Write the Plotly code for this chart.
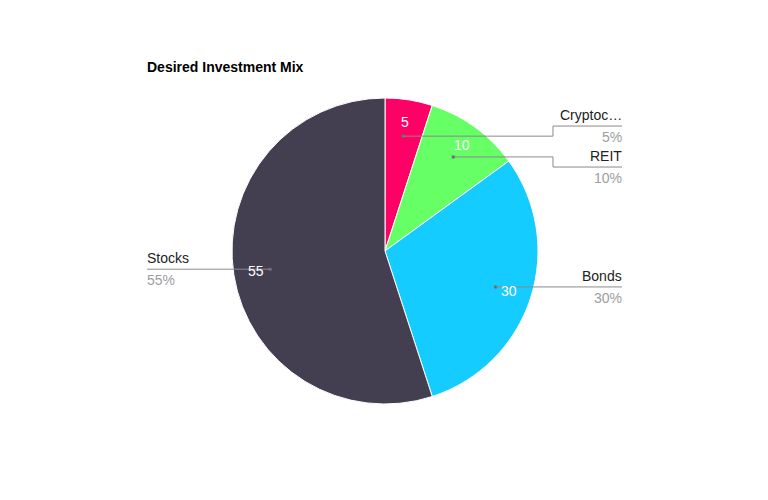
import math
import plotly.graph_objects as go

# ---- data ----
categories = ["Cryptocurrency", "REIT", "Bonds", "Stocks"]
values = [5, 10, 30, 55]
colors = ["#FF0066", "#66FF66", "#14CCFF", "#433F51"]
title_text = "Desired Investment Mix"

# ---- layout constants (pixels) ----
W, H = 768, 500
CX, CY, R = 385, 251, 153
FONT = "Arial, Liberation Sans, sans-serif"
LINE_COL = "#8a8a8a"
PCT_COL = "#9e9e9e"
RIGHT_ELBOW_X = 553
RIGHT_TEXT_X = 622
LEFT_TEXT_X = 147
MIN_SEP = 41
FS = 14


def px(x):
    return x / W


def py(y):
    return 1 - y / H


def short(name, n=7):
    return name if len(name) <= n else name[:n] + "\u2026"


fig = go.Figure(go.Pie(
    labels=categories,
    values=values,
    sort=False,
    direction="clockwise",
    rotation=0,
    marker=dict(colors=colors, line=dict(color="white", width=1)),
    textinfo="none",
    hoverinfo="label+value+percent",
    showlegend=False,
    domain=dict(x=[(CX - R) / W, (CX + R) / W], y=[1 - (CY + R) / H, 1 - (CY - R) / H]),
))

total = sum(values)
cum = 0
items = []
for name, v in zip(categories, values):
    mid = (cum + v / 2) / total * 2 * math.pi
    cum += v
    sx, sy = math.sin(mid), -math.cos(mid)
    items.append(dict(name=name, v=v, pct=round(v / total * 100),
                      tx=CX + 0.855 * R * sx, ty=CY + 0.855 * R * sy,
                      dx=CX + 0.76 * R * sx, dy=CY + 0.76 * R * sy,
                      right=sx >= 0))

# resolve label y positions per side
for side in (True, False):
    grp = sorted([it for it in items if it["right"] == side], key=lambda d: d["dy"])
    for it in grp:
        it["ly"] = it["dy"]
    changed = True
    while changed:
        changed = False
        for a, b in zip(grp, grp[1:]):
            if b["ly"] - a["ly"] < MIN_SEP - 0.01:
                m = (a["ly"] + b["ly"]) / 2
                a["ly"], b["ly"] = m - MIN_SEP / 2, m + MIN_SEP / 2
                changed = True

shapes = []
annotations = []
common = dict(xref="paper", yref="paper", showarrow=False, borderpad=0, borderwidth=0)
for it in items:
    # dot
    shapes.append(dict(type="circle", xref="paper", yref="paper",
                       x0=px(it["dx"] - 1.8), x1=px(it["dx"] + 1.8),
                       y0=py(it["dy"] - 1.8), y1=py(it["dy"] + 1.8),
                       fillcolor="#6b6b6b", line=dict(width=0)))
    ly = it["ly"]
    if it["right"]:
        pts = [(it["dx"], it["dy"]), (RIGHT_ELBOW_X, it["dy"]), (RIGHT_ELBOW_X, ly), (RIGHT_TEXT_X, ly)]
        tx, xa = RIGHT_TEXT_X, "right"
    else:
        pts = [(it["dx"], it["dy"]), (LEFT_TEXT_X, ly)]
        tx, xa = LEFT_TEXT_X, "left"
    path = "M " + " L ".join(f"{px(x):.5f},{py(y):.5f}" for x, y in pts)
    shapes.append(dict(type="path", xref="paper", yref="paper", path=path, layer="above",
                       line=dict(color=LINE_COL, width=1)))
    annotations.append(dict(x=px(tx), y=py(ly - 11), text=short(it["name"]),
                            xanchor=xa, yanchor="middle",
                            font=dict(family=FONT, size=FS, color="#222222"), **common))
    annotations.append(dict(x=px(tx), y=py(ly + 11), text=f"{it['pct']}%",
                            xanchor=xa, yanchor="middle",
                            font=dict(family=FONT, size=FS, color=PCT_COL), **common))
    # value text inside slice
    annotations.append(dict(x=px(it["tx"]), y=py(it["ty"]), text=str(it["v"]),
                            xanchor="center", yanchor="middle",
                            font=dict(family=FONT, size=FS, color="white"), **common))

annotations.append(dict(x=px(147), y=py(67), text=f"<b>{title_text}</b>",
                        xanchor="left", yanchor="middle",
                        font=dict(family=FONT, size=FS, color="#000000"), **common))

fig.update_layout(width=W, height=H, margin=dict(l=0, r=0, t=0, b=0),
                  paper_bgcolor="white", plot_bgcolor="white",
                  shapes=shapes, annotations=annotations)

fig.write_html("out.html")
